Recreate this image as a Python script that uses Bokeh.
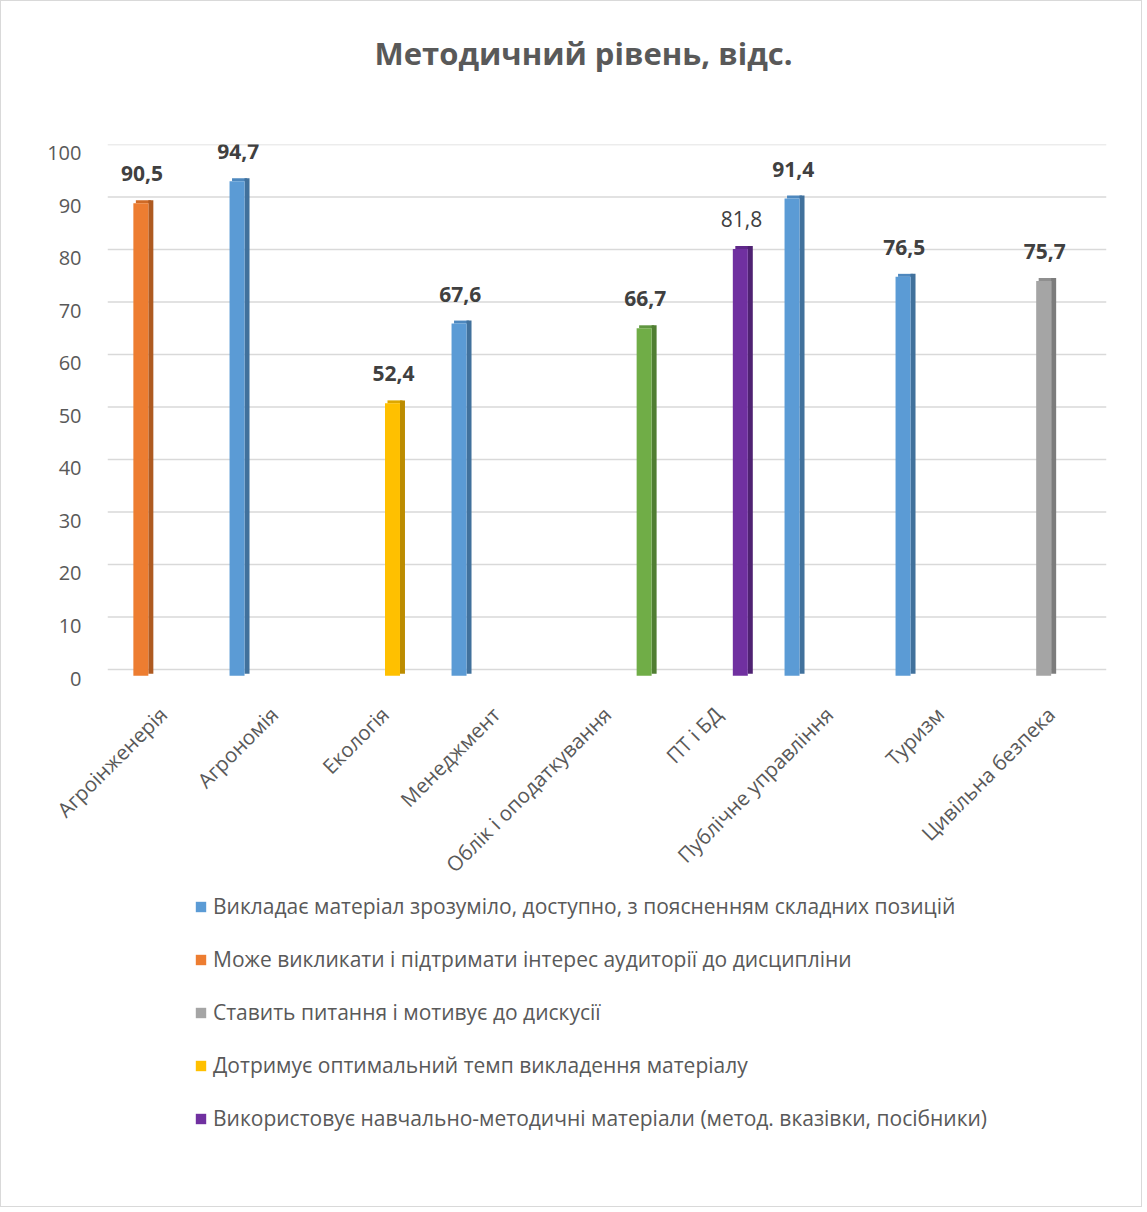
import math
from bokeh.plotting import figure
from bokeh.layouts import column
from bokeh.models import (ColumnDataSource, FactorRange, Range1d, Span, Legend,
                          LegendItem, Title, FixedTicker)
from bokeh.transform import dodge
from bokeh.core.properties import value
from bokeh.embed import file_html
from bokeh.resources import INLINE

# ---------------- data ----------------
categories = ["Агроінженерія", "Агрономія", "Екологія", "Менеджмент",
              "Облік і оподаткування", "ПТ і БД", "Публічне управління",
              "Туризм", "Цивільна безпека"]

series_names = [
    "Викладає матеріал зрозуміло, доступно, з поясненням складних позицій",
    "Може викликати і підтримати інтерес аудиторії до дисципліни",
    "Ставить питання і мотивує до дискусії",
    "Дотримує оптимальний темп викладення матеріалу",
    "Використовує навчально-методичні матеріали (метод. вказівки, посібники)",
    "Інше",
]

blue_vals   = [None, 94.7, None, 67.6, None, None, 91.4, 76.5, None]
orange_vals = [90.5, None, None, None, None, None, None, None, None]
gray_vals   = [None, None, None, None, None, None, None, None, 75.7]
yellow_vals = [None, None, 52.4, None, None, None, None, None, None]
purple_vals = [None, None, None, None, None, 81.8, None, None, None]
green_vals  = [None, None, None, None, 66.7, None, None, None, None]

y_ticks = [0, 10, 20, 30, 40, 50, 60, 70, 80, 90, 100]

# ---------------- styling ----------------
series_vals = [blue_vals, orange_vals, gray_vals, yellow_vals, purple_vals, green_vals]
front_cols = ["#5B9BD5", "#ED7D31", "#A5A5A5", "#FFC000", "#7030A0", "#70AD47"]
side_cols  = ["#41719C", "#AE5A21", "#7C7C7C", "#BC8C00", "#4F2272", "#507E32"]
top_cols   = ["#4E88BE", "#CF6A26", "#8F8F8F", "#DDA700", "#5F2889", "#609641"]
label_bold = [True, True, True, True, False, True]
in_legend  = [True, True, True, True, True, False]

FONT = "Open Sans"
TXT = "#595959"

W, H1, H2 = 1140, 889, 316
PX = 5.28                      # pixels per value unit
p = figure(width=W, height=H1, output_backend="svg", toolbar_location=None,
           x_range=FactorRange(*categories, range_padding=0),
           y_range=Range1d(0, (680 - 143) / PX),
           min_border_left=106, min_border_right=35,
           min_border_top=143, min_border_bottom=H1 - 680)
p.extra_y_ranges = {"wall": Range1d(-1.7, (680 - 143) / PX - 1.7)}
p.outline_line_color = None
p.xgrid.visible = False
p.ygrid.visible = False
p.background_fill_color = "white"
p.border_fill_color = "white"

# title (outermost) plus a spacer between it and the plot area
p.title = Title(text="Методичний  рівень, відс.", align="left", offset=267,
                vertical_align="top", standoff=0,
                text_font=FONT, text_font_size="31px", text_font_style="bold",
                text_color=TXT)
p.add_layout(Title(text=" ", text_font_size="1px", standoff=66), "above")

# gridlines on the back wall
for t in y_ticks:
    p.add_layout(Span(location=t, dimension="width", y_range_name="wall",
                      line_color="#D9D9D9", line_width=1.5, level="underlay"))

# axes
yax = p.yaxis[0]
yax.ticker = FixedTicker(ticks=y_ticks)
yax.axis_line_color = None
yax.major_tick_line_color = None
yax.minor_tick_line_color = None
yax.major_label_text_font = FONT
yax.major_label_text_font_size = "20px"
yax.major_label_text_color = TXT
yax.major_label_standoff = 20

xax = p.xaxis[0]
xax.axis_line_color = None
xax.major_tick_line_color = None
xax.minor_tick_line_color = None
xax.major_label_orientation = math.pi / 4
xax.major_label_text_font = FONT
xax.major_label_text_font_size = "20.5px"
xax.major_label_text_color = TXT
xax.major_label_standoff = 26

# legend figure
q = figure(width=W, height=H2, output_backend="svg", toolbar_location=None,
           x_axis_type=None, y_axis_type=None, min_border=0,
           x_range=Range1d(0, 1), y_range=Range1d(0, 1))
q.outline_line_color = None
q.xgrid.visible = False
q.ygrid.visible = False
q.border_fill_color = "white"
q.background_fill_color = "white"

# bars (pseudo 3D)
BW = 0.135       # front face width (category units)
SW = 0.045       # side depth
DEP = 0.57       # vertical rise of depth (value units)
legend_items = []
for i, vals in enumerate(series_vals):
    cats = [c for c, v in zip(categories, vals) if v is not None]
    vs = [v for v in vals if v is not None]
    src = ColumnDataSource(dict(cat=cats, val=vs,
                                valtop=[v + DEP for v in vs],
                                lab=[f"{v:.1f}".replace(".", ",") for v in vs]))
    off = -0.333 + i * 0.1335
    p.vbar(x=dodge("cat", off + SW / 2, range=p.x_range), width=BW, bottom="val",
           top="valtop", source=src, fill_color=top_cols[i], line_color=None)
    p.vbar(x=dodge("cat", off + BW / 2 + SW / 2, range=p.x_range), width=SW,
           bottom=0.9, top="valtop", source=src, fill_color=side_cols[i], line_color=None)
    p.vbar(x=dodge("cat", off, range=p.x_range), width=BW, bottom=0.5, top="val",
           source=src, fill_color=front_cols[i], line_color=None)
    p.text(x=dodge("cat", off + 0.01, range=p.x_range), y="val", text="lab", source=src,
           y_offset=-22, text_align="center", text_baseline="bottom",
           text_font=value(FONT), text_font_size="21px",
           text_font_style="bold" if label_bold[i] else "normal",
           text_color="#404040")
    if in_legend[i]:
        # legend swatch renderer (zero-height, so only its swatch shows)
        swatch = ColumnDataSource(dict(x=[0.5], top=[0]))
        r = q.vbar(x="x", top="top", bottom=0, width=0.01, source=swatch,
                   fill_color=front_cols[i], line_color=None)
        legend_items.append(LegendItem(label=series_names[i], renderers=[r]))

legend = Legend(items=legend_items, location=(87, 74), orientation="vertical",
                border_line_color=None, background_fill_alpha=0,
                padding=0, margin=0, spacing=25,
                glyph_width=13, glyph_height=13, label_height=20, label_standoff=6,
                label_text_font=FONT, label_text_font_size="21px",
                label_text_color=TXT)
q.add_layout(legend, "center")

layout = column(p, q, spacing=0, styles={"border": "1px solid #D9D9D9"})
open("out.html", "w").write(file_html(layout, INLINE))
